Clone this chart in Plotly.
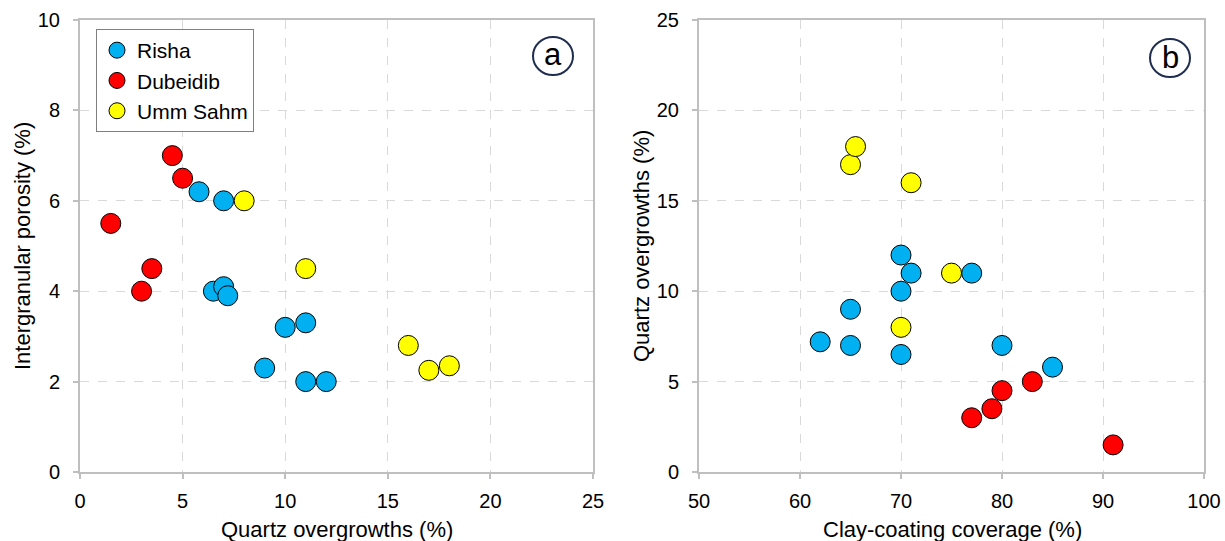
import plotly.graph_objects as go

# Panel (a): Quartz overgrowths (%) vs Intergranular porosity (%)
risha_a_x = [5.8, 7.0, 6.5, 7.0, 7.2, 10.0, 11.0, 9.0, 11.0, 12.0]
risha_a_y = [6.2, 6.0, 4.0, 4.1, 3.9, 3.2, 3.3, 2.3, 2.0, 2.0]
dub_a_x = [4.5, 5.0, 1.5, 3.5, 3.0]
dub_a_y = [7.0, 6.5, 5.5, 4.5, 4.0]
umm_a_x = [8.0, 11.0, 16.0, 17.0, 18.0]
umm_a_y = [6.0, 4.5, 2.8, 2.25, 2.35]

# Panel (b): Clay-coating coverage (%) vs Quartz overgrowths (%)
risha_b_x = [70, 71, 77, 70, 65, 62, 65, 70, 80, 85]
risha_b_y = [12.0, 11.0, 11.0, 10.0, 9.0, 7.2, 7.0, 6.5, 7.0, 5.8]
dub_b_x = [83, 80, 79, 77, 91]
dub_b_y = [5.0, 4.5, 3.5, 3.0, 1.5]
umm_b_x = [65, 65.5, 71, 75, 70]
umm_b_y = [17.0, 18.0, 16.0, 11.0, 8.0]

names = ["Risha", "Dubeidib", "Umm Sahm"]
colors = ["#00B0F0", "#FF0000", "#FFFF00"]

W, H = 1225, 541
def px(x): return x / W
def py(y): return (H - y) / H

fig = go.Figure()
marker_common = dict(size=20, line=dict(color="black", width=1))

for nm, c, xs, ys in zip(names, colors, [risha_a_x, dub_a_x, umm_a_x], [risha_a_y, dub_a_y, umm_a_y]):
    fig.add_trace(go.Scatter(x=xs, y=ys, mode="markers", name=nm, legendgroup=nm,
                             marker=dict(color=c, **marker_common), xaxis="x", yaxis="y"))
for nm, c, xs, ys in zip(names, colors, [risha_b_x, dub_b_x, umm_b_x], [risha_b_y, dub_b_y, umm_b_y]):
    fig.add_trace(go.Scatter(x=xs, y=ys, mode="markers", name=nm, legendgroup=nm, showlegend=False,
                             marker=dict(color=c, **marker_common), xaxis="x2", yaxis="y2"))

FAM = "Liberation Sans, Arial, sans-serif"
tickfont = dict(family=FAM, size=20, color="black")
common = dict(showgrid=True, gridcolor="#D9D9D9", griddash="dash", gridwidth=1,
              showline=True, linecolor="#BFBFBF", linewidth=2, mirror=True,
              ticks="outside", ticklen=5, tickcolor="#BFBFBF", tickwidth=1.5,
              tickfont=tickfont, zeroline=False, automargin=False)

dom_y = [py(472), py(20)]
fig.update_layout(
    width=W, height=H, margin=dict(l=0, r=0, t=0, b=0, pad=0, autoexpand=False),
    paper_bgcolor="white", plot_bgcolor="white", font=dict(family=FAM, color="black"),
    xaxis=dict(domain=[px(80), px(593)], range=[0, 25], dtick=5, anchor="y",
               ticklabelstandoff=5, **common),
    yaxis=dict(domain=dom_y, range=[0, 10], dtick=2, anchor="x", ticklabelstandoff=9, **common),
    xaxis2=dict(domain=[px(699), px(1204)], range=[50, 100], dtick=10, anchor="y2",
                ticklabelstandoff=5, **common),
    yaxis2=dict(domain=dom_y, range=[0, 25], dtick=5, anchor="x2", ticklabelstandoff=9, **common),
    showlegend=True,
    legend=dict(x=px(96), y=py(29), xanchor="left", yanchor="top", bgcolor="white",
                bordercolor="#7F7F7F", borderwidth=1, font=dict(family=FAM, size=21, color="black"),
                itemsizing="trace", tracegroupgap=0),
)

title_font = dict(family=FAM, size=22, color="black")
def ann(text, x, y, **kw):
    d = dict(text=text, x=px(x), y=py(y), xref="paper", yref="paper", showarrow=False,
             xanchor="center", yanchor="middle", font=title_font)
    d.update(kw)
    return d

anns = [
    ann("Quartz overgrowths (%)", 337, 529),
    ann("Clay-coating coverage (%)", 952, 529),
    ann("Intergranular porosity (%)", 22, 246, textangle=-90),
    ann("Quartz overgrowths (%)", 641, 246, textangle=-90),
    ann("a", 553, 54, font=dict(family=FAM, size=31, color="black")),
    ann("b", 1170, 57, font=dict(family=FAM, size=31, color="black")),
]
fig.update_layout(annotations=anns)

shapes = [
    dict(type="circle", xref="paper", yref="paper", x0=px(533), x1=px(573), y0=py(75), y1=py(37),
         line=dict(color="#1F2D4F", width=2)),
    dict(type="circle", xref="paper", yref="paper", x0=px(1150), x1=px(1190), y0=py(77), y1=py(39),
         line=dict(color="#1F2D4F", width=2)),
]
fig.update_layout(shapes=shapes)

fig.write_html("out.html")
